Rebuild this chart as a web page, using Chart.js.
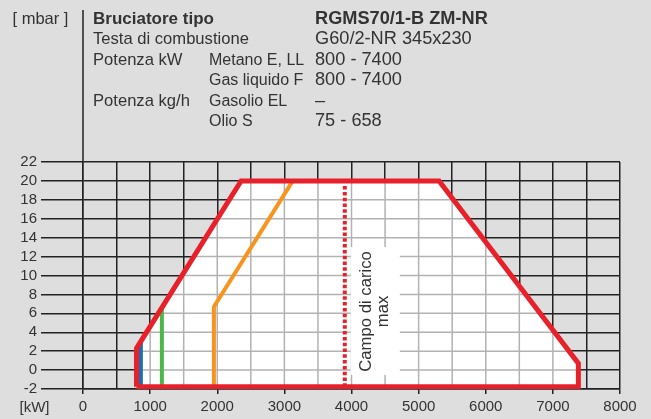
<!DOCTYPE html>
<html>
<head>
<meta charset="utf-8">
<script src="https://cdn.jsdelivr.net/npm/chart.js@4"></script>
<style>
  html, body { margin: 0; padding: 0; background: #dedede; }
  canvas { display: block; }
</style>
</head>
<body>
<canvas id="c" width="651" height="419"></canvas>
<script>
// ---- data ----
const kwTickValues = [0, 1000, 2000, 3000, 4000, 5000, 6000, 7000, 8000];
const kwTickLabels = ['0', '1000', '2000', '3000', '4000', '5000', '6000', '7000', '8000'];
const mbarTickLabels = ['-2', '0', '2', '4', '6', '8', '10', '12', '14', '16', '18', '20', '22'];

// Campo di lavoro (red envelope)
const envelopeKW   = [797, 797, 2355, 5305, 7380, 7380, 797];
const envelopeMbar = [-1.77, 2.3, 20, 20, 0.7, -1.77, -1.77];
// Campo di carico max (dotted red)
const maxLoadKW   = [3900, 3900];
const maxLoadMbar = [-1.77, 19.7];
// orange curve
const orangeKW   = [1950, 1950, 3125];
const orangeMbar = [-1.77, 6.7, 20];
// green line
const greenKW   = [1175, 1175];
const greenMbar = [-1.77, 6.6];
// blue line
const blueKW   = [862, 862];
const blueMbar = [-1.77, 3.0];
// label box
const boxKW   = [3988, 4720];
const boxMbar = [-0.5, 13];
const boxLabelKW = [4205, 4460];
const boxLabelMbar = 6.2;
const boxLabelLines = ['Campo di carico', 'max'];

// header text
const headerUnit = '[ mbar ]';
const headerRows = [
  ['Bruciatore tipo', '', 'RGMS70/1-B ZM-NR'],
  ['Testa di combustione', '', 'G60/2-NR 345x230'],
  ['Potenza kW', 'Metano E, LL', '800 - 7400'],
  ['', 'Gas liquido F', '800 - 7400'],
  ['Potenza kg/h', 'Gasolio EL', '\u2013'],
  ['', 'Olio S', '75 - 658']
];
const xUnitLabel = '[kW]';

const toPts = (xs, ys) => xs.map((x, i) => ({ x: x, y: ys[i] }));

const RED = '#e8202a';
const FONT = "'Liberation Sans', Arial, Helvetica, sans-serif";
const TEXT = '#333333';
const GRID = '#222222';
const GRID_IN = '#b2b2b2';

const decorPlugin = {
  id: 'decor',
  beforeDatasetsDraw(chart) {
    const ctx = chart.ctx;
    const xs = chart.scales.x, ys = chart.scales.y;
    const area = chart.chartArea;
    ctx.save();
    ctx.beginPath();
    envelopeKW.forEach((v, i) => {
      const px = xs.getPixelForValue(v), py = ys.getPixelForValue(envelopeMbar[i]);
      if (i === 0) ctx.moveTo(px, py); else ctx.lineTo(px, py);
    });
    ctx.closePath();
    ctx.fillStyle = '#ffffff';
    ctx.fill();
    ctx.clip();
    ctx.strokeStyle = GRID_IN;
    ctx.lineWidth = 1.5;
    xs.ticks.forEach(t => {
      const px = xs.getPixelForValue(t.value);
      ctx.beginPath(); ctx.moveTo(px, area.top); ctx.lineTo(px, area.bottom); ctx.stroke();
    });
    ys.ticks.forEach(t => {
      const py = ys.getPixelForValue(t.value);
      ctx.beginPath(); ctx.moveTo(area.left, py); ctx.lineTo(area.right, py); ctx.stroke();
    });
    ctx.restore();

    const bx0 = xs.getPixelForValue(boxKW[0]), bx1 = xs.getPixelForValue(boxKW[1]);
    const by0 = ys.getPixelForValue(boxMbar[1]), by1 = ys.getPixelForValue(boxMbar[0]);
    ctx.save();
    ctx.fillStyle = '#ffffff';
    ctx.fillRect(bx0, by0, bx1 - bx0, by1 - by0);
    ctx.fillStyle = TEXT;
    ctx.font = '16.7px ' + FONT;
    ctx.textAlign = 'center';
    ctx.textBaseline = 'middle';
    const cy = ys.getPixelForValue(boxLabelMbar);
    boxLabelLines.forEach((s, i) => {
      const cx = xs.getPixelForValue(boxLabelKW[i]);
      ctx.save();
      ctx.translate(cx, cy);
      ctx.rotate(-Math.PI / 2);
      ctx.fillText(s, 0, 1);
      ctx.restore();
    });
    ctx.restore();
  },
  afterDraw(chart) {
    const ctx = chart.ctx;
    const xs = chart.scales.x;
    const area = chart.chartArea;
    const x0 = xs.getPixelForValue(0);
    ctx.save();
    ctx.strokeStyle = GRID;
    ctx.lineWidth = 1.5;
    ctx.beginPath(); ctx.moveTo(x0, 10); ctx.lineTo(x0, area.top); ctx.stroke();
    ctx.fillStyle = TEXT;
    ctx.textBaseline = 'alphabetic';
    ctx.textAlign = 'left';
    ctx.font = '16.5px ' + FONT;
    ctx.fillText(headerUnit, 12.5, 23.5);
    const colX = [93, 209, 315];
    const colSize = [16.6, 16, 18.2];
    headerRows.forEach((row, r) => {
      const y = 23.5 + r * 20.5;
      row.forEach((s, c) => {
        if (!s) return;
        ctx.font = (r === 0 ? 'bold ' : '') + (r === 0 && c === 0 ? 17 : colSize[c]) + 'px ' + FONT;
        ctx.fillText(s, colX[c], y);
      });
    });
    ctx.font = '15px ' + FONT;
    ctx.textAlign = 'center';
    ctx.textBaseline = 'middle';
    ctx.fillText(xUnitLabel, 34.5, 408);
    ctx.restore();
  }
};

const lineDs = (pts, color, width, extra) => Object.assign({
  data: pts, showLine: true, borderColor: color, borderWidth: width,
  pointRadius: 0, fill: false, tension: 0, borderJoinStyle: 'miter', borderCapStyle: 'butt'
}, extra || {});

new Chart(document.getElementById('c'), {
  type: 'scatter',
  data: {
    datasets: [
      lineDs(toPts(envelopeKW, envelopeMbar), RED, 5),
      lineDs(toPts(maxLoadKW, maxLoadMbar), RED, 4, { borderDash: [3.5, 2.3] }),
      lineDs(toPts(orangeKW, orangeMbar), '#f7941d', 4),
      lineDs(toPts(greenKW, greenMbar), '#4cb848', 4),
      lineDs(toPts(blueKW, blueMbar), '#1a6db5', 4)
    ]
  },
  options: {
    responsive: false,
    animation: false,
    devicePixelRatio: 1,
    layout: { padding: { top: 162, right: 31, left: 0, bottom: 0 } },
    plugins: { legend: { display: false }, tooltip: { enabled: false } },
    scales: {
      x: {
        type: 'linear', min: 0, max: 8000,
        ticks: {
          stepSize: 500, autoSkip: false, maxRotation: 0, padding: 4,
          color: TEXT, font: { family: FONT, size: 15 },
          callback: (v) => { const i = kwTickValues.indexOf(v); return i >= 0 ? kwTickLabels[i] : ''; }
        },
        grid: {
          color: GRID, lineWidth: 1.5, tickLength: 5,
          tickColor: (c) => (c.tick && kwTickValues.indexOf(c.tick.value) >= 0) ? GRID : 'rgba(0,0,0,0)'
        },
        border: { color: GRID, width: 1.5 },
        afterFit: (s) => { s.height = 30; }
      },
      y: {
        type: 'linear', min: -2, max: 22,
        ticks: {
          stepSize: 2, autoSkip: false, padding: 4,
          color: TEXT, font: { family: FONT, size: 15 },
          callback: (v) => { const i = Math.round((v + 2) / 2); return mbarTickLabels[i] !== undefined ? mbarTickLabels[i] : ''; }
        },
        grid: { color: GRID, lineWidth: 1.5, tickLength: 42 },
        border: { color: GRID, width: 1.5 },
        afterFit: (s) => { s.width = 83; }
      }
    }
  },
  plugins: [decorPlugin]
});
</script>
</body>
</html>
